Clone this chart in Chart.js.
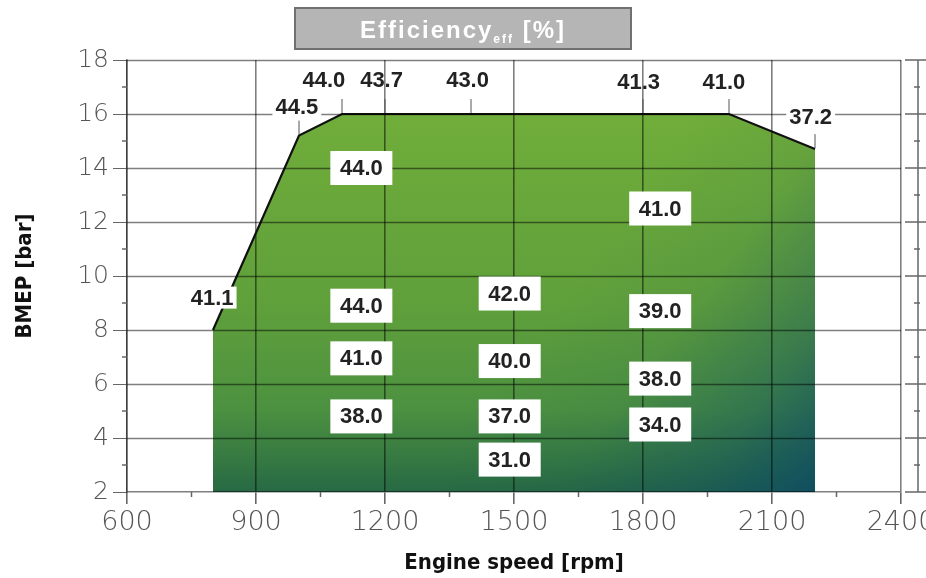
<!DOCTYPE html>
<html>
<head>
<meta charset="utf-8">
<script src="https://cdn.jsdelivr.net/npm/chart.js@4"></script>
<style>
  html, body { margin: 0; padding: 0; background: #fff; overflow: hidden; }
  #wrap { width: 926px; height: 578px; }
</style>
</head>
<body>
<div id="wrap"><canvas id="grafico" width="926" height="578"></canvas></div>
<script>
// curva de plena carga (rpm / bar)
const rpmLimite = [800, 1000, 1100, 2000, 2200];
const bmepLimite = [8, 15.2, 16, 16, 14.7];

// rótulos de eficiência ao longo da curva
const rotuloLimite = ["41.1", "44.5", "44.0", "43.7", "43.0", "41.3", "41.0", "37.2"];
const rotuloLimiteRpm = [798, 995, 1058, 1192, 1392, 1790, 1988, 2190];
const rotuloLimiteBmep = [9.2, 16.25, 17.27, 17.27, 17.27, 17.2, 17.2, 15.9];
const marcaLimiteRpm = [null, 1000, 1100, 1200, 1400, 1800, 2000, 2200];

// valores dentro do mapa
const rotuloInterno = ["44.0", "41.0", "44.0", "42.0", "39.0", "41.0", "40.0", "38.0", "38.0", "37.0", "34.0", "31.0"];
const rpmInterno = [1145, 1840, 1145, 1490, 1840, 1145, 1490, 1840, 1145, 1490, 1840, 1490];
const bmepInterno = [14.0, 12.5, 8.9, 9.35, 8.7, 6.95, 6.85, 6.2, 4.8, 4.8, 4.5, 3.2];

// eixos
const xTicks = [600, 900, 1200, 1500, 1800, 2100, 2400];
const yTicks = [2, 4, 6, 8, 10, 12, 14, 16, 18];

const pontos = rpmLimite.map((r, i) => ({ x: r, y: bmepLimite[i] }));

const fonteNegrito = '"Liberation Sans", Arial, sans-serif';
const fonteEstreita = '"Liberation Sans Narrow", "DejaVu Sans Condensed", "Liberation Sans", sans-serif';
const fonteEixo = '"DejaVu Sans", sans-serif';
const corGrade = "rgba(0,0,0,0.5)";

function limiteY(r) {
  for (let i = 0; i < rpmLimite.length - 1; i++) {
    if (r >= rpmLimite[i] && r <= rpmLimite[i + 1]) {
      const t = (r - rpmLimite[i]) / (rpmLimite[i + 1] - rpmLimite[i]);
      return bmepLimite[i] + t * (bmepLimite[i + 1] - bmepLimite[i]);
    }
  }
  return null;
}

// gradiente verde principal (vertical)
function fundoVerde(context) {
  const { chart } = context;
  const a = chart.chartArea;
  if (!a) return "transparent";
  const y = chart.scales.y;
  const g = chart.ctx.createLinearGradient(0, y.getPixelForValue(16), 0, y.getPixelForValue(2));
  g.addColorStop(0, "#70ad3a");
  g.addColorStop(0.5, "#60a03b");
  g.addColorStop(0.78, "#4c9140");
  g.addColorStop(1, "#276944");
  return g;
}

// escurecimento azulado no canto inferior direito
function fundoAzul(context) {
  const { chart } = context;
  const a = chart.chartArea;
  if (!a) return "transparent";
  const { x, y } = chart.scales;
  const g = chart.ctx.createLinearGradient(
    x.getPixelForValue(1600), y.getPixelForValue(9),
    x.getPixelForValue(2200), y.getPixelForValue(2)
  );
  g.addColorStop(0, "rgba(12,75,100,0)");
  g.addColorStop(0.35, "rgba(12,75,100,0.08)");
  g.addColorStop(0.7, "rgba(12,75,100,0.4)");
  g.addColorStop(1, "rgba(12,75,100,0.85)");
  return g;
}

function linha(ctx, x1, y1, x2, y2) {
  ctx.beginPath();
  ctx.moveTo(x1, y1);
  ctx.lineTo(x2, y2);
  ctx.stroke();
}

const rotulos = {
  id: "rotulos",
  afterDraw(chart) {
    const { ctx, chartArea: a } = chart;
    const { x, y } = chart.scales;
    ctx.save();

    // linhas horizontais da grade por cima do mapa
    ctx.strokeStyle = corGrade;
    ctx.lineWidth = 1.6;
    yTicks.forEach(v => {
      if (v === 2) return;
      const py = Math.round(y.getPixelForValue(v)) + 0.5;
      linha(ctx, a.left, py, a.right, py);
    });

    // marcas menores
    ctx.strokeStyle = "#666";
    ctx.lineWidth = 1.5;
    for (let v = 3; v < 18; v += 2) {
      const py = y.getPixelForValue(v);
      linha(ctx, a.left - 5, py, a.left, py);
    }
    for (let v = 750; v < 2400; v += 300) {
      const px = x.getPixelForValue(v);
      linha(ctx, px, a.bottom, px, a.bottom + 5);
    }

    // eixo secundário à direita (cortado)
    const xd = a.right + 17;
    linha(ctx, xd, a.top, xd, a.bottom);
    for (let v = 2; v <= 18; v++) {
      const py = y.getPixelForValue(v);
      if (v % 2 === 0) linha(ctx, a.right + 4, py, a.right + 25, py);
      else linha(ctx, xd - 4, py, xd + 2, py);
    }

    // marcas dos rótulos da curva
    ctx.strokeStyle = "#555";
    ctx.lineWidth = 1;
    marcaLimiteRpm.forEach(r => {
      if (r === null) return;
      const px = x.getPixelForValue(r);
      const py = y.getPixelForValue(limiteY(r));
      linha(ctx, px, py - 15, px, py - 1);
    });

    ctx.font = "bold 22px " + fonteNegrito;
    ctx.textAlign = "center";
    ctx.textBaseline = "middle";

    rotuloLimite.forEach((t, i) => {
      const px = x.getPixelForValue(rotuloLimiteRpm[i]);
      const py = y.getPixelForValue(rotuloLimiteBmep[i]);
      if (rotuloLimiteBmep[i] < 17) {
        const w = ctx.measureText(t).width + 6;
        ctx.fillStyle = "#fff";
        ctx.fillRect(px - w / 2, py - 11, w, 22);
      }
      ctx.fillStyle = "#222";
      ctx.fillText(t, px, py + 1);
    });

    rotuloInterno.forEach((t, i) => {
      const px = x.getPixelForValue(rpmInterno[i]);
      const py = y.getPixelForValue(bmepInterno[i]);
      ctx.fillStyle = "#fff";
      ctx.fillRect(px - 31, py - 17, 62, 34);
      ctx.fillStyle = "#222";
      ctx.fillText(t, px, py + 1);
    });

    // caixa do título
    ctx.fillStyle = "#b5b5b5";
    ctx.fillRect(295, 8, 336, 41);
    ctx.strokeStyle = "#707070";
    ctx.lineWidth = 2;
    ctx.strokeRect(295, 8, 336, 41);

    ctx.fillStyle = "#fff";
    ctx.textAlign = "left";
    ctx.textBaseline = "alphabetic";
    ctx.letterSpacing = "2px";
    const f1 = "bold 24px " + fonteNegrito;
    const f2 = "bold 12px " + fonteNegrito;
    ctx.font = f1;
    const w1 = ctx.measureText("Efficiency").width;
    const w3 = ctx.measureText(" [%]").width;
    ctx.font = f2;
    const w2 = ctx.measureText("eff").width;
    let tx = 463 - (w1 + w2 + w3) / 2;
    ctx.font = f1;
    ctx.fillText("Efficiency", tx, 38);
    tx += w1;
    ctx.font = f2;
    ctx.fillText("eff", tx, 43);
    tx += w2;
    ctx.font = f1;
    ctx.fillText(" [%]", tx, 38);

    ctx.restore();
  }
};

new Chart(document.getElementById("grafico"), {
  type: "line",
  data: {
    datasets: [
      {
        data: pontos,
        fill: "start",
        backgroundColor: fundoAzul,
        borderColor: "#111",
        borderWidth: 2.2,
        pointRadius: 0,
        tension: 0
      },
      {
        data: pontos,
        fill: "start",
        backgroundColor: fundoVerde,
        borderWidth: 0,
        pointRadius: 0,
        tension: 0
      }
    ]
  },
  options: {
    responsive: false,
    animation: false,
    devicePixelRatio: 1,
    layout: { padding: { top: 60, right: 25, left: 0, bottom: 0 } },
    plugins: {
      legend: { display: false },
      tooltip: { enabled: false },
      filler: { drawTime: "beforeDraw" }
    },
    scales: {
      x: {
        type: "linear",
        min: 600,
        max: 2400,
        afterBuildTicks: s => { s.ticks = xTicks.map(v => ({ value: v })); },
        afterFit: s => { s.height = 86; s.paddingLeft = 0; s.paddingRight = 0; },
        grid: { color: corGrade, lineWidth: 1.6, tickLength: 12, tickColor: "#666" },
        border: { display: true, color: corGrade, width: 1.6 },
        ticks: {
          font: { family: fonteEixo, size: 27, weight: "200" },
          color: "#555",
          padding: 3,
          maxRotation: 0,
          autoSkip: false,
          callback: v => String(v)
        },
        title: {
          display: true,
          text: "Engine speed [rpm]",
          font: { family: fonteEstreita, size: 22, weight: "bold" },
          color: "#111",
          padding: { top: 0, bottom: 2 }
        }
      },
      y: {
        min: 2,
        max: 18,
        afterBuildTicks: s => { s.ticks = yTicks.map(v => ({ value: v })); },
        afterFit: s => { s.width = 127; },
        grid: { drawOnChartArea: false, tickLength: 14, tickColor: "#666" },
        border: { display: true, color: corGrade, width: 1.6 },
        ticks: {
          font: { family: fonteEixo, size: 25, weight: "200" },
          color: "#555",
          padding: 4,
          callback: v => String(v)
        },
        title: {
          display: true,
          text: "BMEP [bar]",
          font: { family: fonteEstreita, size: 22, weight: "bold" },
          color: "#111",
          padding: { top: 12, bottom: 0 }
        }
      }
    }
  },
  plugins: [rotulos]
});
</script>
</body>
</html>
